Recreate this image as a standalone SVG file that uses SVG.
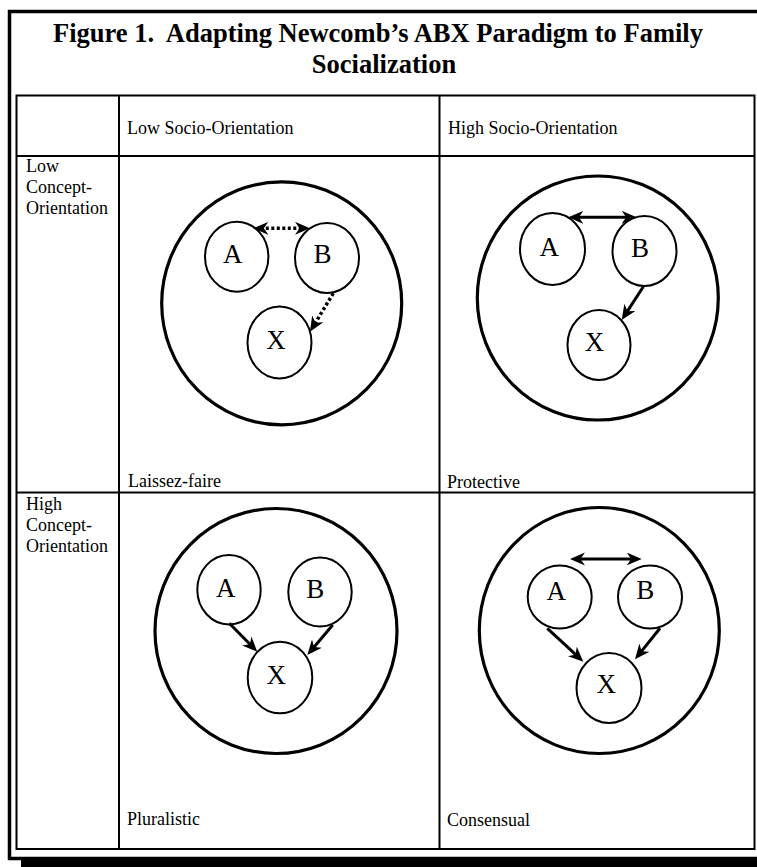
<svg xmlns="http://www.w3.org/2000/svg" width="757" height="867" viewBox="0 0 757 867">
<style>
text{font-family:"Liberation Serif","Times New Roman",serif;fill:#000}
.title{font-size:26.5px;font-weight:bold;text-anchor:middle}
.lbl{font-size:18px}
.node{font-size:27px}
.grid{fill:none;stroke:#000;stroke-width:2}
.big{fill:none;stroke:#000;stroke-width:3.2}
.sm{fill:none;stroke:#000;stroke-width:2}
.con{fill:none;stroke:#000;stroke-width:3}
.dot{fill:none;stroke:#000;stroke-width:3.5;stroke-dasharray:3 2.5}
</style>
<defs>
<marker id="ah" markerUnits="userSpaceOnUse" markerWidth="16" markerHeight="14" refX="8" refY="6.5" orient="auto-start-reverse" viewBox="0 0 16 14">
<path d="M0,0 L15,6.5 L0,13 L4.5,6.5 z" fill="#000"/>
</marker>
</defs>
<rect x="21" y="24" width="800" height="845" fill="#000"/>
<rect x="9.5" y="11.5" width="800" height="847" fill="#fff" stroke="#000" stroke-width="3.5"/>
<text class="title" x="378" y="42" xml:space="preserve">Figure 1.  Adapting Newcomb’s ABX Paradigm to Family</text>
<text class="title" x="384" y="73">Socialization</text>
<g id="table">
<rect class="grid" x="16.5" y="95.5" width="738" height="753.5"/>
<line class="grid" x1="119" y1="95.5" x2="119" y2="849"/>
<line class="grid" x1="439.5" y1="95.5" x2="439.5" y2="849"/>
<line class="grid" x1="16.5" y1="156" x2="754.5" y2="156"/>
<line class="grid" x1="16.5" y1="492.5" x2="754.5" y2="492.5"/>
<text class="lbl" x="127" y="133.5">Low Socio-Orientation</text>
<text class="lbl" x="448" y="133.5">High Socio-Orientation</text>
<text class="lbl" x="26"><tspan x="26" y="172">Low</tspan><tspan x="26" y="193">Concept-</tspan><tspan x="26" y="214">Orientation</tspan></text>
<text class="lbl" x="26"><tspan x="26" y="510">High</tspan><tspan x="26" y="531">Concept-</tspan><tspan x="26" y="552">Orientation</tspan></text>
<text class="lbl" x="128" y="487">Laissez-faire</text>
<text class="lbl" x="447" y="488">Protective</text>
<text class="lbl" x="127" y="825">Pluralistic</text>
<text class="lbl" x="447" y="826">Consensual</text>
</g>
<g id="laissez-faire">
<ellipse class="big" cx="281.7" cy="303.3" rx="120" ry="121.5"/>
<g id="lf-A"><ellipse class="sm" cx="236.7" cy="256.7" rx="31.7" ry="35"/><text class="node" x="232.8" y="263.3" text-anchor="middle">A</text></g>
<g id="lf-B"><ellipse class="sm" cx="327" cy="258" rx="32" ry="35"/><text class="node" x="322.5" y="263.3" text-anchor="middle">B</text></g>
<g id="lf-X"><ellipse class="sm" cx="279.5" cy="342.5" rx="32" ry="36"/><text class="node" x="276" y="349.3" text-anchor="middle">X</text></g>
</g>
<g id="protective">
<ellipse class="big" cx="597.8" cy="298" rx="120.5" ry="122"/>
<g id="pr-A"><ellipse class="sm" cx="552.5" cy="249" rx="32.5" ry="36"/><text class="node" x="549.2" y="256" text-anchor="middle">A</text></g>
<g id="pr-B"><ellipse class="sm" cx="644.5" cy="251" rx="32" ry="35"/><text class="node" x="640" y="256.7" text-anchor="middle">B</text></g>
<g id="pr-X"><ellipse class="sm" cx="599" cy="345" rx="31.5" ry="35"/><text class="node" x="594.5" y="350.7" text-anchor="middle">X</text></g>
</g>
<g id="pluralistic">
<ellipse class="big" cx="276" cy="631" rx="121" ry="122.5"/>
<g id="pl-A"><ellipse class="sm" cx="229" cy="589.7" rx="31.7" ry="34.7"/><text class="node" x="225.8" y="596.7" text-anchor="middle">A</text></g>
<g id="pl-B"><ellipse class="sm" cx="320" cy="592" rx="31.7" ry="34.5"/><text class="node" x="315.3" y="598.3" text-anchor="middle">B</text></g>
<g id="pl-X"><ellipse class="sm" cx="280" cy="677.5" rx="32.3" ry="35.8"/><text class="node" x="276.3" y="684" text-anchor="middle">X</text></g>
</g>
<g id="consensual">
<ellipse class="big" cx="599.3" cy="630.5" rx="120" ry="123"/>
<g id="co-A"><ellipse class="sm" cx="559.7" cy="597" rx="32" ry="31.5"/><text class="node" x="556.2" y="600" text-anchor="middle">A</text></g>
<g id="co-B"><ellipse class="sm" cx="650" cy="597" rx="32" ry="31.5"/><text class="node" x="645.3" y="599.3" text-anchor="middle">B</text></g>
<g id="co-X"><ellipse class="sm" cx="609" cy="688" rx="32.5" ry="35"/><text class="node" x="606.2" y="693.3" text-anchor="middle">X</text></g>
</g>
<g id="connectors">
<line class="dot" x1="260.3" y1="228.3" x2="303" y2="228.3" marker-start="url(#ah)" marker-end="url(#ah)"/>
<line class="dot" x1="333.3" y1="293.3" x2="313.6" y2="325.7" marker-end="url(#ah)"/>
<line class="con" x1="575.3" y1="217.3" x2="629.7" y2="217.3" marker-start="url(#ah)" marker-end="url(#ah)"/>
<line class="con" x1="643.3" y1="286.7" x2="625.5" y2="314.1" marker-end="url(#ah)"/>
<line class="con" x1="229.3" y1="623.3" x2="252.4" y2="646.7" marker-end="url(#ah)"/>
<line class="con" x1="332.7" y1="625" x2="311.8" y2="649.7" marker-end="url(#ah)"/>
<line class="con" x1="577" y1="559" x2="634.7" y2="559" marker-start="url(#ah)" marker-end="url(#ah)"/>
<line class="con" x1="547.3" y1="628.3" x2="578.2" y2="656.9" marker-end="url(#ah)"/>
<line class="con" x1="660" y1="628.3" x2="639.4" y2="653.9" marker-end="url(#ah)"/>
</g>
</svg>
